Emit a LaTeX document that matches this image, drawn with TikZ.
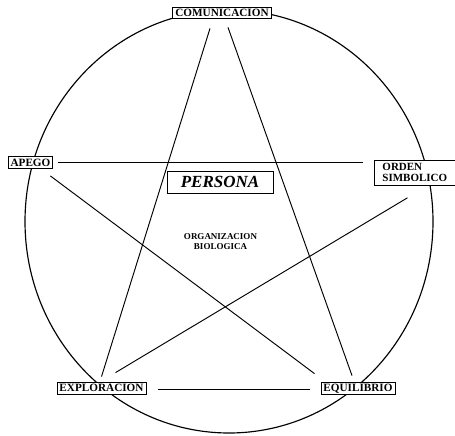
\documentclass[tikz,border=0pt]{standalone}
\usepackage{fontspec}
\setmainfont{Liberation Serif}
\usetikzlibrary{calc}
\begin{document}
\begin{tikzpicture}[x=1pt,y=-1pt,
  lbl/.style={draw, line width=0.9pt, fill=white, font=\fontsize{11.2}{11}\selectfont\bfseries,
    inner xsep=2.5pt, inner ysep=2pt, text height=7.5pt, text depth=0.4pt},
  conn/.style={line width=0.95pt}]
\useasboundingbox (0,0) rectangle (455,436);
\draw[line width=1.15pt] (229,221.5) ellipse [x radius=204pt, y radius=211.5pt];
\node[lbl] (com) at (222,13) {COMUNICACION};
\node[lbl] (apego) at (30.5,162.5) {APEGO};
\node[lbl, anchor=north west, align=left, text width=66pt, inner xsep=8pt, inner ysep=3pt,
  text height=7.5pt, text depth=11.4pt,
  font=\fontsize{11}{11}\selectfont\bfseries] (orden) at (374,160) {ORDEN\\SIMBOLICO};
\node[lbl] (expl) at (101.5,388) {EXPLORACION};
\node[lbl] (equi) at (358,388) {EQUILIBRIO};
\node[draw, line width=0.9pt, minimum width=106pt, minimum height=22pt,
  font=\fontsize{17}{17}\selectfont\bfseries\itshape] (persona) at (220,182) {PERSONA};
\node[font=\fontsize{9}{10.5}\selectfont\bfseries, align=center] (org) at (220.5,241.5) {ORGANIZACION\\BIOLOGICA};
% connectors
\draw[conn] ($(apego.east)+(5,0)$) -- ($(apego.east -| orden.west)+(-11,0)$);
\draw[conn] ($(com.south)+(-12,9)$) -- ($(expl.north)+(0,-5)$);
\draw[conn] ($(com.south)+(6,8)$) -- ($(equi.north)+(-6,-6)$);
\draw[conn] ($(apego.south east)+(-3,7)$) -- ($(equi.north west)+(-6,-8)$);
\draw[conn] ($(orden.south)+(-8,12)$) -- ($(expl.north)+(14,-9)$);
\draw[conn] ($(expl.east)+(12,1)$) -- ($(equi.west)+(-11,1)$);
\end{tikzpicture}
\end{document}
